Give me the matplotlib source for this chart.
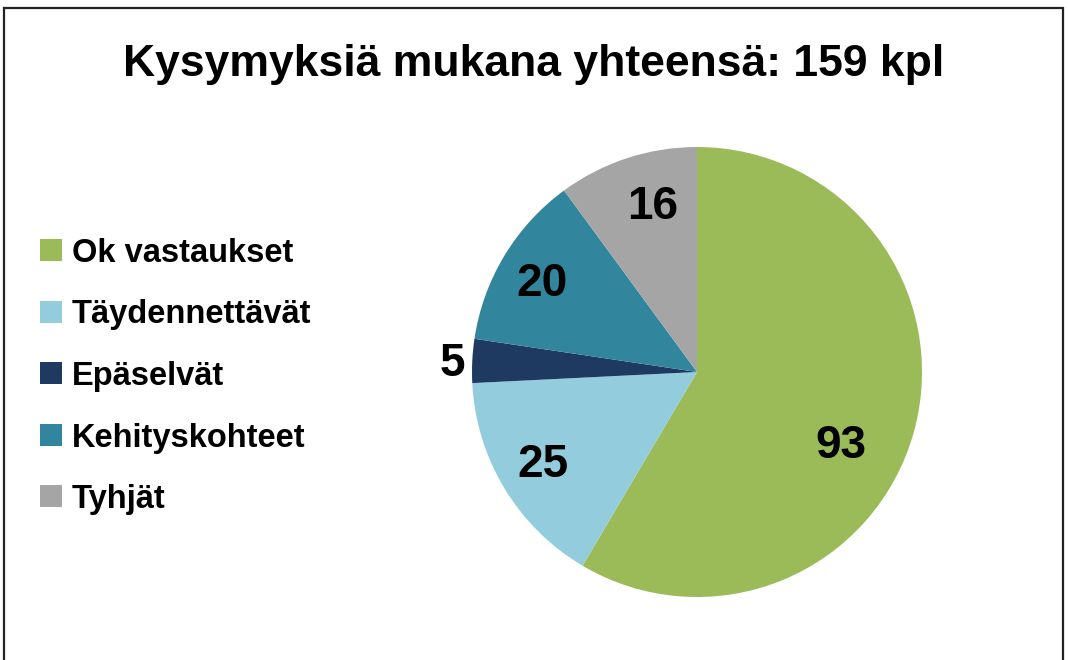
import numpy as np
import matplotlib
matplotlib.use('Agg')
from matplotlib import pyplot as plt
from matplotlib.patches import Rectangle

# == Data ==
kategoriat = ['Ok vastaukset', 'Täydennettävät', 'Epäselvät', 'Kehityskohteet', 'Tyhjät']
arvot = [93, 25, 5, 20, 16]
otsikko = 'Kysymyksiä mukana yhteensä: 159 kpl'

varit = ['#9BBB59', '#93CDDD', '#1F3A60', '#31859C', '#A5A5A5']
# label placement tweaks (distance from centre, angle offset in degrees)
etaisyys = [0.72, 0.80, 1.09, 0.79, 0.76]
kulma_siirto = [-12, 0, 1, 1.5, -3]

plt.rcParams['font.family'] = ['Liberation Sans', 'DejaVu Sans']
plt.rcParams['font.weight'] = 'bold'

W, H = 1068, 660
fig = plt.figure(figsize=(W / 100, H / 100), dpi=100)
fig.patch.set_facecolor('white')

# pie axes: centre (697, 372) px, radius 225 px
cx, cy, r = 697, 372, 225
ax = fig.add_axes([(cx - r) / W, (H - cy - r) / H, 2 * r / W, 2 * r / H])
wedges, _ = ax.pie(arvot, colors=varit, startangle=90, counterclock=False,
                   radius=1, wedgeprops=dict(linewidth=0))
ax.set_xlim(-1, 1)
ax.set_ylim(-1, 1)
ax.set_aspect('equal')
ax.axis('off')

for w, v, d, s in zip(wedges, arvot, etaisyys, kulma_siirto):
    a = np.deg2rad((w.theta1 + w.theta2) / 2 + s)
    ax.text(d * np.cos(a), d * np.sin(a), str(v), ha='center', va='center',
            fontsize=33, fontweight='bold', color='black')

# title
fig.text(0.5, 1 - 76 / H, otsikko, ha='center', va='baseline',
         fontsize=32, fontweight='bold')

# legend
for i, (k, c) in enumerate(zip(kategoriat, varit)):
    yc = 250 + i * 61.5
    fig.add_artist(Rectangle((40 / W, 1 - (yc + 11) / H), 22 / W, 22 / H,
                             transform=fig.transFigure, facecolor=c, edgecolor='none'))
    fig.text(72 / W, 1 - yc / H, k, ha='left', va='center_baseline',
             fontsize=23.5, fontweight='bold')

# border
fig.add_artist(Rectangle((4 / W, -0.05), 1059 / W, 1.05 - 8 / H,
                         transform=fig.transFigure, fill=False,
                         edgecolor='#222222', linewidth=1.6))

fig.savefig('out.png', dpi=100, facecolor='white')
